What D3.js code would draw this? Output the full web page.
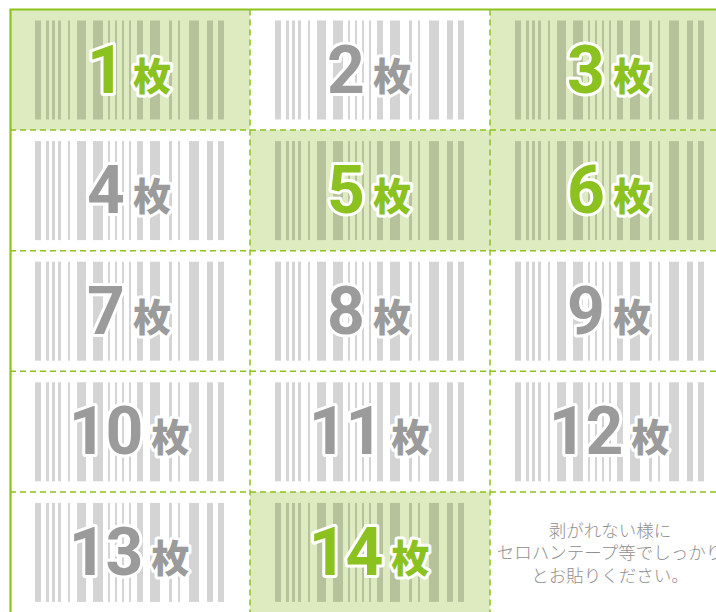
<!DOCTYPE html>
<html>
<head>
<meta charset="utf-8">
<script src="https://cdn.jsdelivr.net/npm/d3@7"></script>
<style>
  body { margin: 0; background: #fff; }
  svg { display: block; }
</style>
</head>
<body>
<svg id="chart"></svg>
<script>
// ------------------------------- DATA ----------------------------------------------

const counts = [1, 2, 3, 4, 5, 6, 7, 8, 9, 10, 11, 12, 13, 14]; // sheets per cell
const highlighted = [1, 3, 5, 6, 14]; // cells drawn with the green background
const unitLabel = '枚';
const noteLines = ['剥がれない様に', 'セロハンテープ等でしっかり', 'とお貼りください。'];

// barcode pattern (module units, 0..189)
const barStarts = [0, 11, 17, 23, 33, 42, 58, 73, 80, 87, 94, 102, 115, 134, 143, 154, 172, 183];
const barWidths = [6, 3, 3, 3, 2, 9, 10, 2, 2, 2, 2, 6, 10, 3, 2, 10, 6, 6];

// ------------------------------- SETUP ----------------------------------------------

const width = 716;
const height = 612;
const green = '#8dc21f';

const svg = d3.select('#chart').attr('width', width).attr('height', height);

const col = d3.scaleBand().domain([0, 1, 2]).range([10, 730]);
const row = d3.scaleBand().domain([0, 1, 2, 3, 4]).range([9.5, 612.5]);

const cells = counts.map((n, i) => ({ n, c: i % 3, r: Math.floor(i / 3), on: highlighted.includes(n) }));

// barcode scale relative to the cell
const bx = d3.scaleLinear().domain([0, 189]).range([25, 214]);

// ------------------------------- CELLS ----------------------------------------------

const g = svg.selectAll('g.cell')
  .data(cells)
  .join('g')
  .attr('class', 'cell')
  .attr('transform', (d) => `translate(${col(d.c)},${row(d.r)})`);

g.append('rect')
  .attr('width', col.bandwidth())
  .attr('height', row.bandwidth())
  .attr('fill', (d) => (d.on ? '#deebc0' : '#fff'));

g.each(function (d) {
  d3.select(this)
    .selectAll('rect.bar')
    .data(barStarts.map((s, i) => ({ s, w: barWidths[i] })))
    .join('rect')
    .attr('class', 'bar')
    .attr('x', (b) => bx(b.s))
    .attr('width', (b) => bx(b.w) - bx(0))
    .attr('y', 11)
    .attr('height', 99)
    .attr('fill', d.on ? '#b6c29c' : '#d4d4d4');
});

// number + 枚 label
const label = g.append('text')
  .attr('x', col.bandwidth() / 2 - 1)
  .attr('y', 83)
  .attr('text-anchor', 'middle')
  .attr('fill', (d) => (d.on ? '#8cc21f' : '#9b9b9b'))
  .attr('stroke', '#fff')
  .attr('stroke-width', 6)
  .attr('stroke-linejoin', 'round')
  .attr('paint-order', 'stroke');

label.append('tspan')
  .attr('font-family', 'Roboto, "DejaVu Sans Condensed", sans-serif')
  .attr('font-weight', 'bold')
  .attr('font-size', 66)
  .attr('letter-spacing', -1)
  .text((d) => d.n);

label.append('tspan')
  .attr('dx', 9)
  .attr('dy', -3)
  .attr('font-family', '"Noto Sans CJK JP", sans-serif')
  .attr('font-weight', 900)
  .attr('font-size', 38)
  .text(unitLabel);

// last cell: note text
const note = svg.append('text')
  .attr('x', col(2) + col.bandwidth() / 2)
  .attr('y', row(4) + 45)
  .attr('text-anchor', 'middle')
  .attr('font-family', '"Noto Sans CJK JP", sans-serif')
  .attr('font-size', 17.5)
  .attr('font-weight', 300)
  .attr('fill', '#8f8f8f');

note.selectAll('tspan')
  .data(noteLines)
  .join('tspan')
  .attr('x', col(2) + col.bandwidth() / 2)
  .attr('dy', (d, i) => (i === 0 ? 0 : 22.5))
  .text((d) => d);

// ------------------------------- GRID LINES ----------------------------------------------

svg.append('g')
  .selectAll('line')
  .data(row.domain().slice(1))
  .join('line')
  .attr('x1', 10)
  .attr('x2', width)
  .attr('y1', (d) => row(d))
  .attr('y2', (d) => row(d))
  .attr('stroke', green)
  .attr('stroke-width', 1.5)
  .attr('stroke-dasharray', '6 4');

svg.append('g')
  .selectAll('line')
  .data(col.domain().slice(1))
  .join('line')
  .attr('x1', (d) => col(d))
  .attr('x2', (d) => col(d))
  .attr('y1', 9.5)
  .attr('y2', height)
  .attr('stroke', green)
  .attr('stroke-width', 1.5)
  .attr('stroke-dasharray', '6 4');

// solid outer border (top + left)
svg.append('path')
  .attr('d', `M${width},9.5H10.5V${height}`)
  .attr('fill', 'none')
  .attr('stroke', green)
  .attr('stroke-width', 2.2);
</script>
</body>
</html>
